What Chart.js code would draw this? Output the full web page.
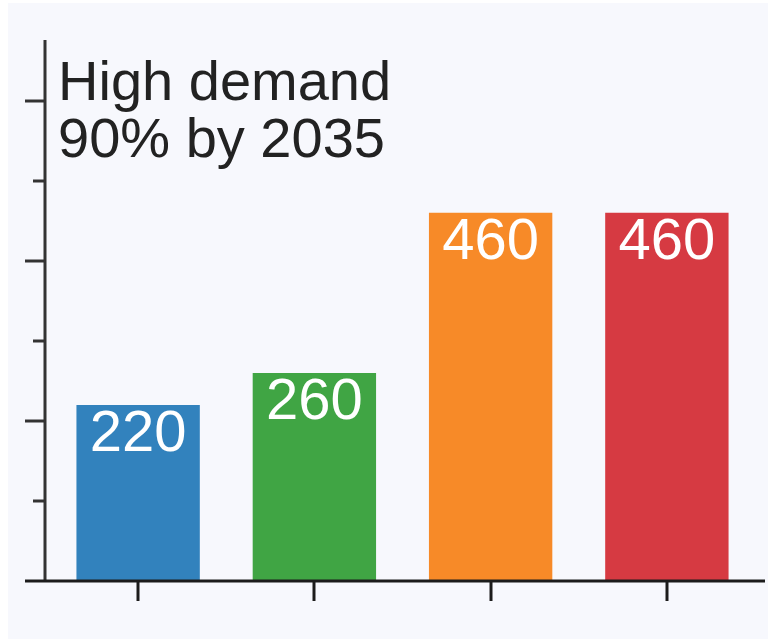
<!DOCTYPE html>
<html>
<head>
<meta charset="utf-8">
<script src="https://cdn.jsdelivr.net/npm/chart.js@4"></script>
<style>
  html, body { margin: 0; padding: 0; background: #ffffff; }
  #wrap { width: 768px; height: 639px; position: relative; }
  canvas { display: block; }
</style>
</head>
<body>
<div id="wrap"><canvas id="c" width="768" height="639"></canvas></div>
<script>
// ---- data ----
const categories = ["A", "B", "C", "D"];
const values = [220, 260, 460, 460];
const barColors = ["#3282bd", "#40a544", "#f78a28", "#d63a42"];
const titleLines = ["High demand", "90% by 2035"];
const yMajorTicks = [0, 200, 400, 600];
const yMinorTicks = [100, 300, 500];
const yMax = 676;

const customPlugin = {
  id: "custom",
  beforeDraw(chart) {
    const ctx = chart.ctx;
    ctx.save();
    ctx.fillStyle = "#f7f8fd";
    ctx.fillRect(8, 3, 760, 636);
    ctx.restore();
  },
  afterDatasetsDraw(chart) {
    const ctx = chart.ctx;
    const y = chart.scales.y, x = chart.scales.x;
    const axisX = 45;
    const zeroY = y.getPixelForValue(0);
    ctx.save();
    // y axis line
    ctx.strokeStyle = "#333";
    ctx.lineWidth = 3;
    ctx.beginPath();
    ctx.moveTo(axisX, y.getPixelForValue(yMax));
    ctx.lineTo(axisX, zeroY);
    ctx.stroke();
    // y ticks
    yMajorTicks.forEach(v => {
      if (v === 0) return;
      const py = Math.round(y.getPixelForValue(v));
      ctx.beginPath(); ctx.moveTo(25, py); ctx.lineTo(axisX, py); ctx.stroke();
    });
    yMinorTicks.forEach(v => {
      const py = Math.round(y.getPixelForValue(v));
      ctx.beginPath(); ctx.moveTo(33, py); ctx.lineTo(axisX, py); ctx.stroke();
    });
    // x axis line
    ctx.strokeStyle = "#1c1c1c";
    ctx.lineWidth = 3;
    ctx.beginPath();
    ctx.moveTo(25, zeroY); ctx.lineTo(765, zeroY); ctx.stroke();
    // x ticks
    categories.forEach((c, i) => {
      const px = Math.round(x.getPixelForValue(i));
      ctx.beginPath(); ctx.moveTo(px, zeroY); ctx.lineTo(px, zeroY + 20); ctx.stroke();
    });
    // data labels
    const meta = chart.getDatasetMeta(0);
    ctx.fillStyle = "#ffffff";
    ctx.font = "58px 'Liberation Sans', Arial, sans-serif";
    ctx.textAlign = "center";
    ctx.textBaseline = "alphabetic";
    meta.data.forEach((bar, i) => {
      ctx.fillText(String(values[i]), bar.x, bar.y + 46);
    });
    // title
    ctx.fillStyle = "#222222";
    ctx.font = "56px 'Liberation Sans', Arial, sans-serif";
    ctx.textAlign = "left";
    ctx.fillText(titleLines[0], 58, 100);
    ctx.fillText(titleLines[1], 58, 157);
    ctx.restore();
  }
};

new Chart(document.getElementById("c"), {
  type: "bar",
  data: {
    labels: categories,
    datasets: [{
      data: values,
      backgroundColor: barColors,
      borderWidth: 0,
      barPercentage: 0.7,
      categoryPercentage: 1.0
    }]
  },
  options: {
    responsive: false,
    animation: false,
    layout: { padding: { left: 50, right: 13, top: 40, bottom: 58 } },
    plugins: { legend: { display: false }, tooltip: { enabled: false }, title: { display: false } },
    scales: {
      x: { display: false, offset: true },
      y: { display: false, min: 0, max: yMax }
    }
  },
  plugins: [customPlugin]
});
</script>
</body>
</html>
